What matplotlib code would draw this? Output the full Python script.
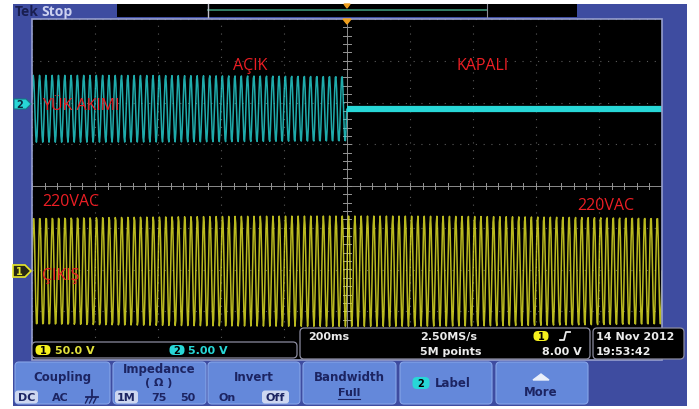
import numpy as np
import matplotlib
matplotlib.use("Agg")
import matplotlib.pyplot as plt
from matplotlib.patches import Rectangle, FancyBboxPatch, Polygon

# ---- acquisition settings ----
time_per_div = 0.2          # s/div (200ms)
n_hdiv, n_vdiv = 10, 8
line_freq = 50.0            # Hz
ch1_scale = 50.0            # V/div
ch2_scale = 5.00            # V/div
ch1_position = -2.04        # div
ch2_position = 1.85         # div
ch1_peak = 66.0             # V, output voltage peak
ch2_peak = 4.0              # V, load current probe peak
switch_off_time = 0.0       # s, load switched off at trigger

# ---- readouts ----
timebase_label = "200ms"
sample_rate_label = "2.50MS/s"
record_label = "5M points"
trigger_level_label = "8.00 V"
date_label = "14 Nov 2012"
clock_label = "19:53:42"
ch1_label = "50.0 V"
ch2_label = "5.00 V"
annotations = [("AÇIK", 233, 66), ("KAPALI", 456, 66), ("YÜK AKIMI", 42, 106),
               ("220VAC", 42, 202), ("220VAC", 577, 206), ("ÇIKIŞ", 42, 276)]

W, H = 699, 410
fig = plt.figure(figsize=(W / 100, H / 100), dpi=100, facecolor="white")

def c(r, g, b):
    return (r / 255, g / 255, b / 255)

BLUE = c(62, 76, 160)
BTN = c(100, 136, 218)
NAVY = c(28, 36, 98)
RED = c(236, 30, 36)
YEL = c(232, 232, 40)
CYAN = c(40, 215, 215)
FONT = ["Open Sans", "DejaVu Sans"]
SCOPE_FONT = ["DejaVu Sans"]

# ---- background panel ----
bg = fig.add_axes([0, 0, 1, 1], zorder=0)
bg.set_xlim(0, W); bg.set_ylim(H, 0); bg.axis("off")
bg.add_patch(Rectangle((13, 5), 674, 402, color=BLUE, lw=0))
bg.add_patch(Rectangle((32, 20), 630, 341, color="black", lw=0))

# ---- graticule and traces ----
gx0, gy0, gw, gh = 32, 20, 630, 334
ax = fig.add_axes([gx0 / W, 1 - (gy0 + gh) / H, gw / W, gh / H], zorder=1)
ax.set_facecolor("none")
half_t = time_per_div * n_hdiv / 2
ax.set_xlim(-half_t, half_t)
ax.set_ylim(-n_vdiv / 2, n_vdiv / 2)
ax.axis("off")

grid_col = c(90, 90, 90)
for i in range(n_hdiv + 1):
    x = -half_t + i * time_per_div
    if i != n_hdiv // 2:
        ax.axvline(x, color=grid_col, lw=0.8, ls=(0, (1, 6)), zorder=1)
for j in range(n_vdiv + 1):
    y = -n_vdiv / 2 + j
    if j != n_vdiv // 2:
        ax.axhline(y, color=grid_col, lw=0.8, ls=(0, (1, 6)), zorder=1)
ax.axvline(0, color=c(140, 140, 140), lw=0.7, zorder=1)
ax.axhline(0, color=c(140, 140, 140), lw=0.7, zorder=1)
for k in np.arange(-n_hdiv / 2, n_hdiv / 2 + 0.01, 0.2):
    ax.plot([k * time_per_div] * 2, [-0.07, 0.07], color=c(150, 150, 150), lw=0.7, zorder=1)
for k in np.arange(-n_vdiv / 2, n_vdiv / 2 + 0.01, 0.2):
    ax.plot([-0.014, 0.014], [k, k], color=c(150, 150, 150), lw=0.7, zorder=1)

t = np.linspace(-half_t, half_t, 1000)
ch1 = ch1_peak * np.sin(2 * np.pi * line_freq * t)
ch2 = np.where(t < switch_off_time, ch2_peak * np.sin(2 * np.pi * line_freq * t + 0.3), 0.0)
ax.plot(t, ch1 / ch1_scale + ch1_position, color=YEL, lw=1.1, alpha=0.8, zorder=3)
ax.plot(t, ch2 / ch2_scale + ch2_position, color=CYAN, lw=1.1, alpha=0.8, zorder=3)
ax.plot(t[t >= switch_off_time], ch2[t >= switch_off_time] / ch2_scale + ch2_position,
        color=CYAN, lw=4.5, zorder=4, solid_capstyle="butt")

# ---- overlay: frame, readouts, menus ----
ui = fig.add_axes([0, 0, 1, 1], zorder=2)
ui.set_xlim(0, W); ui.set_ylim(H, 0); ui.axis("off"); ui.set_facecolor("none")
ui.add_patch(Rectangle((gx0, gy0), gw, 341, fill=False, ec=c(150, 158, 205), lw=1.2))

# top bar
ui.text(15, 12, "Tek", color=c(25, 30, 80), fontsize=10, fontweight="bold", va="center", family=FONT)
ui.text(41, 12, "Stop", color=c(205, 210, 240), fontsize=10, fontweight="bold", va="center", family=FONT)
ui.add_patch(Rectangle((117, 5), 460, 13, color="black", lw=0))
ui.plot([208, 487], [11, 11], color=c(60, 150, 120), lw=1.2)
ui.plot([208, 208], [5, 18], color=c(190, 190, 200), lw=1.0)
ui.plot([487, 487], [5, 18], color=c(140, 140, 150), lw=0.8)
ui.add_patch(Polygon([[344, 5], [350, 5], [347, 9]], color=c(240, 160, 30)))
ui.add_patch(Polygon([[343, 20], [351, 20], [347, 25]], color=c(240, 160, 30), zorder=5))

def badge(x, y, txt, fc, w=15, h=10, ec="none", tc="black", fs=7):
    ui.add_patch(FancyBboxPatch((x - w / 2, y - h / 2), w, h, boxstyle="round,pad=0,rounding_size=4.5",
                                fc=fc, ec=ec, lw=1))
    ui.text(x, y + 0.5, txt, color=tc, fontsize=fs, fontweight="bold", ha="center", va="center", family=SCOPE_FONT)

# channel markers
ui.add_patch(Polygon([[14, 100], [26, 100], [31, 105], [26, 110], [14, 110]], fc=CYAN, ec=c(20, 120, 130), lw=0.8))
ui.text(20, 105.5, "2", fontsize=7, fontweight="bold", ha="center", va="center", color=c(10, 40, 60), family=SCOPE_FONT)
ui.add_patch(Polygon([[13, 266], [25, 266], [31, 272], [25, 278], [13, 278]], fc=c(40, 40, 20), ec=YEL, lw=1.2))
ui.text(19, 272.5, "1", fontsize=7, fontweight="bold", ha="center", va="center", color=YEL, family=SCOPE_FONT)

# red annotations
for txt, x, y in annotations:
    ui.text(x, y, txt, color=RED, fontsize=11.5, va="center", ha="left", family=FONT)

# status readouts
box_ec = c(140, 140, 160)
sfs = 8
ui.add_patch(FancyBboxPatch((32, 343), 265, 16, boxstyle="round,pad=0,rounding_size=4", fc="black", ec=box_ec, lw=0.9))
badge(43, 351, "1", c(245, 240, 30))
ui.text(55, 351.5, ch1_label, color=c(225, 225, 60), fontsize=sfs, fontweight="bold", va="center", family=SCOPE_FONT)
badge(177, 351, "2", CYAN)
ui.text(188, 351.5, ch2_label, color=CYAN, fontsize=sfs, fontweight="bold", va="center", family=SCOPE_FONT)

ui.add_patch(FancyBboxPatch((300, 329), 290, 31, boxstyle="round,pad=0,rounding_size=4", fc="black", ec=box_ec, lw=0.9))
wc = c(235, 235, 235)
ui.text(308, 337.5, timebase_label, color=wc, fontsize=sfs, fontweight="bold", va="center", family=SCOPE_FONT)
ui.text(420, 337.5, sample_rate_label, color=wc, fontsize=sfs, fontweight="bold", va="center", family=SCOPE_FONT)
ui.text(420, 352, record_label, color=wc, fontsize=sfs, fontweight="bold", va="center", family=SCOPE_FONT)
badge(541, 337, "1", c(245, 240, 30))
ui.plot([560, 564, 566, 570], [341, 341, 333, 333], color=wc, lw=1.3)
ui.text(582, 352, trigger_level_label, color=wc, fontsize=sfs, fontweight="bold", va="center", ha="right", family=SCOPE_FONT)

ui.add_patch(FancyBboxPatch((593, 329), 91, 31, boxstyle="round,pad=0,rounding_size=4", fc="black", ec=box_ec, lw=0.9))
ui.text(596, 337.5, date_label, color=wc, fontsize=sfs, fontweight="bold", va="center", family=SCOPE_FONT)
ui.text(596, 352, clock_label, color=wc, fontsize=sfs, fontweight="bold", va="center", family=SCOPE_FONT)

# menu buttons
buttons = [(15, 95), (113, 93), (208, 92), (303, 93), (400, 92), (496, 92)]
for bx, bw in buttons:
    ui.add_patch(FancyBboxPatch((bx, 363), bw, 42, boxstyle="round,pad=0,rounding_size=4", fc=BTN, ec=c(135, 165, 232), lw=0.8))

def btxt(x, y, s, fs=8.5, ha="center"):
    ui.text(x, y, s, color=NAVY, fontsize=fs, fontweight="bold", ha=ha, va="center", family=SCOPE_FONT)

def hilite(x, y, w, s):
    ui.add_patch(FancyBboxPatch((x, y - 6.5), w, 13, boxstyle="round,pad=0,rounding_size=3", fc=c(205, 215, 240), ec="none"))
    btxt(x + w / 2, y, s, fs=8)

btxt(62, 378, "Coupling")
hilite(15, 398, 23, "DC")
btxt(60, 398, "AC", fs=8)
ui.plot([92, 92], [391, 398], color=NAVY, lw=1.3)
ui.plot([86, 98], [398, 398], color=NAVY, lw=1.3)
for gx in (88, 92, 96):
    ui.plot([gx, gx - 2.5], [399, 404], color=NAVY, lw=1.0)

btxt(159, 370, "Impedance")
btxt(159, 383, "( Ω )", fs=8)
hilite(115, 398, 23, "1M")
btxt(159, 398, "75", fs=8)
btxt(188, 398, "50", fs=8)

btxt(254, 378, "Invert")
btxt(227, 398, "On", fs=8)
hilite(262, 398, 27, "Off")

btxt(349, 378, "Bandwidth")
btxt(349, 393, "Full", fs=8)
ui.plot([338, 360], [400, 400], color=NAVY, lw=0.8)

badge(421, 384, "2", CYAN, w=17, h=12)
btxt(435, 384, "Label", ha="left")

ui.add_patch(Polygon([[533, 381], [549, 381], [541, 375]], color=c(235, 240, 250)))
btxt(541, 393, "More")

fig.savefig("out.png", dpi=100, facecolor="white")
